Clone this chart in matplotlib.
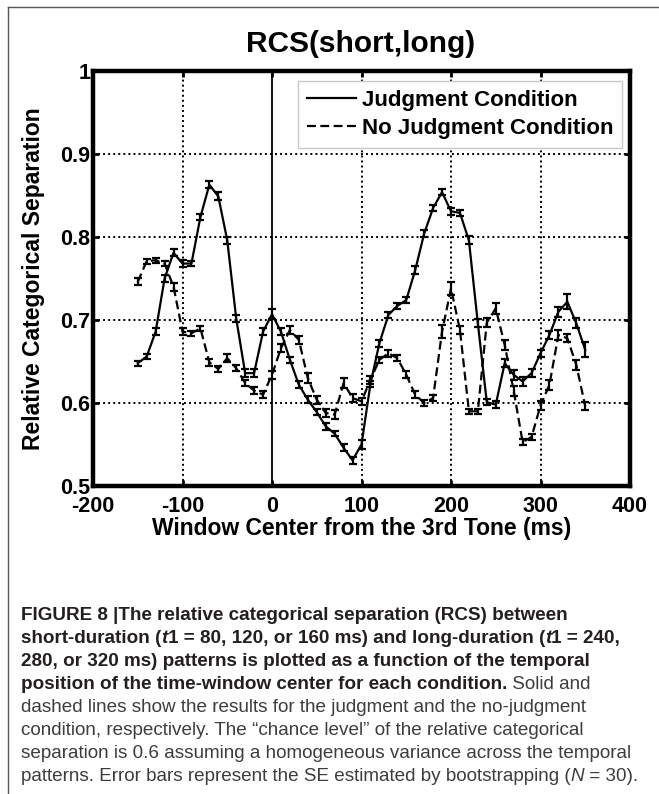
import matplotlib
matplotlib.use('Agg')
import matplotlib.pyplot as plt
import numpy as np
from matplotlib.lines import Line2D

plt.rc('font', family='Liberation Sans', weight='bold')
plt.rc('axes', unicode_minus=False)

W, H = 659, 794

# window centers (ms) relative to the 3rd tone
window_center = np.arange(-150, 360, 10)

judgment = [0.648, 0.656, 0.686, 0.750, 0.781, 0.768, 0.768, 0.824, 0.863, 0.849,
            0.796, 0.702, 0.636, 0.636, 0.686, 0.707, 0.686, 0.652, 0.622, 0.604,
            0.589, 0.572, 0.563, 0.546, 0.531, 0.550, 0.623, 0.672, 0.706, 0.717,
            0.724, 0.760, 0.804, 0.835, 0.854, 0.831, 0.829, 0.796, 0.696, 0.601,
            0.598, 0.648, 0.634, 0.626, 0.636, 0.660, 0.682, 0.710, 0.722, 0.696,
            0.664]
judgment_se = [0.003, 0.003, 0.004, 0.004, 0.004, 0.004, 0.003, 0.004, 0.004, 0.005,
               0.004, 0.004, 0.005, 0.005, 0.004, 0.006, 0.004, 0.004, 0.004, 0.004,
               0.004, 0.004, 0.003, 0.004, 0.004, 0.005, 0.004, 0.004, 0.004, 0.004,
               0.004, 0.005, 0.004, 0.004, 0.004, 0.004, 0.004, 0.005, 0.005, 0.004,
               0.004, 0.005, 0.006, 0.005, 0.005, 0.004, 0.005, 0.006, 0.009, 0.006,
               0.009]

no_judgment = [0.746, 0.771, 0.772, 0.768, 0.740, 0.686, 0.684, 0.690, 0.649, 0.641,
               0.654, 0.642, 0.624, 0.615, 0.610, 0.634, 0.666, 0.688, 0.676, 0.630,
               0.604, 0.588, 0.586, 0.624, 0.606, 0.602, 0.628, 0.652, 0.660, 0.654,
               0.634, 0.610, 0.600, 0.606, 0.686, 0.738, 0.688, 0.590, 0.590, 0.697,
               0.714, 0.670, 0.615, 0.553, 0.559, 0.597, 0.622, 0.682, 0.678, 0.646,
               0.596]
no_judgment_se = [0.004, 0.003, 0.003, 0.003, 0.005, 0.004, 0.003, 0.003, 0.004, 0.004,
                  0.005, 0.004, 0.004, 0.004, 0.004, 0.005, 0.005, 0.005, 0.005, 0.006,
                  0.005, 0.005, 0.005, 0.006, 0.005, 0.004, 0.005, 0.004, 0.004, 0.004,
                  0.004, 0.004, 0.004, 0.004, 0.008, 0.008, 0.005, 0.003, 0.003, 0.005,
                  0.007, 0.006, 0.006, 0.004, 0.004, 0.005, 0.006, 0.006, 0.005, 0.006,
                  0.005]

xticks = [-200, -100, 0, 100, 200, 300, 400]
yticks = [0.5, 0.6, 0.7, 0.8, 0.9, 1.0]
ytick_labels = ['0.5', '0.6', '0.7', '0.8', '0.9', '1']

fig = plt.figure(figsize=(W / 100, H / 100), dpi=100)
ax = fig.add_axes([93 / W, 1 - 486 / H, (630 - 93) / W, (486 - 71) / H])

ax.errorbar(window_center, judgment, yerr=judgment_se, color='black', lw=1.6,
            capsize=3, capthick=1.6, elinewidth=1.6)
ax.errorbar(window_center, no_judgment, yerr=no_judgment_se, color='black', lw=1.6,
            dashes=(4, 2), capsize=3, capthick=1.6, elinewidth=1.6)

ax.axvline(0, color='black', lw=1.3, zorder=1)
for gx in [-100, 100, 200, 300]:
    ax.axvline(gx, color='black', lw=1.4, ls=(0, (1, 1.6)), zorder=0)
for gy in [0.6, 0.7, 0.8, 0.9]:
    ax.axhline(gy, color='black', lw=1.4, ls=(0, (1, 1.6)), zorder=0)

ax.set_xlim(-200, 400)
ax.set_ylim(0.5, 1.0)
ax.set_xticks(xticks)
ax.set_yticks(yticks)
ax.set_yticklabels(ytick_labels)
ax.tick_params(direction='in', length=4, width=2, top=True, right=True,
               labelsize=15.5)
ax.tick_params(axis='y', pad=2)
ax.tick_params(axis='x', pad=7)
for sp in ax.spines.values():
    sp.set_linewidth(3.2)

ax.set_xlabel('Window Center from the 3rd Tone (ms)', fontsize=16.5, fontweight='bold')
ax.xaxis.set_label_coords(0.5, -0.075)
ax.set_ylabel('Relative Categorical Separation', fontsize=16.5, fontweight='bold')
ax.yaxis.set_label_coords(-0.09, 0.5)

fig.text(361 / W, 1 - 44 / H, 'RCS(short,long)', fontsize=21.5, fontweight='bold',
         ha='center', va='center')

handles = [Line2D([], [], color='black', lw=1.6),
           Line2D([], [], color='black', lw=1.6, dashes=(4, 2))]
leg = ax.legend(handles, ['Judgment Condition', 'No Judgment Condition'],
                loc='upper right', bbox_to_anchor=(0.985, 0.975), borderaxespad=0,
                fontsize=16, fancybox=False, framealpha=1, edgecolor='#c8c8c8',
                handlelength=2.2, handletextpad=0.25, borderpad=0.4, labelspacing=0.3)
leg.get_frame().set_linewidth(1)

# thin border of the figure panel
fig.add_artist(Line2D([8 / W, 8 / W], [0, 1 - 7 / H], color='#555555', lw=1))
fig.add_artist(Line2D([8 / W, 1], [1 - 7 / H, 1 - 7 / H], color='#555555', lw=1))

# caption
cap_family = ['Liberation Sans']
cap_size = 13.6
bold_color = '#231f20'
text_color = '#3d3d3d'
caption = [
    [('FIGURE 8 |The relative categorical separation (RCS) between', 'bold', 'normal')],
    [('short-duration (', 'bold', 'normal'), ('t', 'bold', 'italic'),
     ('1 = 80, 120, or 160 ms) and long-duration (', 'bold', 'normal'),
     ('t', 'bold', 'italic'), ('1 = 240,', 'bold', 'normal')],
    [('280, or 320 ms) patterns is plotted as a function of the temporal', 'bold', 'normal')],
    [('position of the time-window center for each condition.', 'bold', 'normal'),
     (' Solid and', 'normal', 'normal')],
    [('dashed lines show the results for the judgment and the no-judgment', 'normal', 'normal')],
    [('condition, respectively. The \u201cchance level\u201d of the relative categorical',
      'normal', 'normal')],
    [('separation is 0.6 assuming a homogeneous variance across the temporal',
      'normal', 'normal')],
    [('patterns. Error bars represent the SE estimated by bootstrapping (', 'normal', 'normal'),
     ('N', 'normal', 'italic'), (' = 30).', 'normal', 'normal')],
]

renderer = fig.canvas.get_renderer()
for i, line in enumerate(caption):
    x = 21
    y = 620 + 23 * i
    for s, weight, style in line:
        t = fig.text(x / W, 1 - y / H, s, fontsize=cap_size, fontweight=weight,
                     fontstyle=style, family=cap_family,
                     color=bold_color if weight == 'bold' else text_color,
                     ha='left', va='baseline')
        x += t.get_window_extent(renderer).width

fig.savefig('out.png', dpi=100)
